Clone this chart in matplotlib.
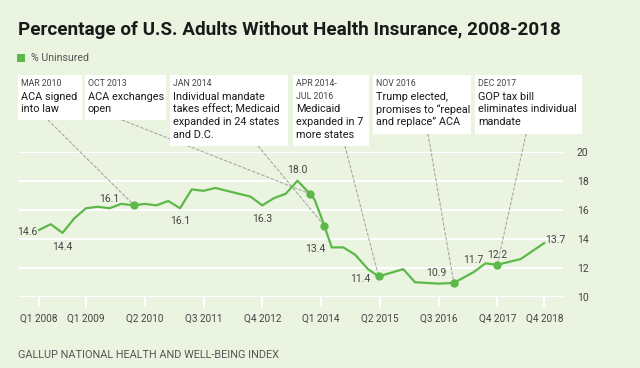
import matplotlib
matplotlib.use('Agg')
import matplotlib.pyplot as plt
from matplotlib import font_manager
from matplotlib.patches import Rectangle

# quarter index (0 = Q1 2008), fractional where the data is monthly
quarters = [0, 1, 2, 3, 4, 5, 6, 7, 8.1, 9, 10, 11, 12, 13, 14, 15, 18, 19, 20, 21, 22,
            23.05, 23.45, 24.06, 24.28, 24.91, 25.9, 26.9, 28, 28.9, 31, 32, 34, 35.3,
            37, 38, 39, 41, 42, 43]
uninsured = [14.6, 15.0, 14.4, 15.4, 16.1, 16.2, 16.1, 16.4, 16.3, 16.4, 16.3, 16.6, 16.1,
             17.4, 17.3, 17.5, 16.9, 16.3, 16.8, 17.1, 18.0,
             17.1, 16.7, 15.4, 14.9, 13.4, 13.4, 12.9, 11.9, 11.4, 11.9, 11.0, 10.9, 10.95,
             11.7, 12.3, 12.2, 12.6, 13.15, 13.7]

tick_pos = [0, 4, 9, 14, 19, 24, 29, 34, 39, 43]
tick_labels = ['Q1 2008', 'Q1 2009', 'Q2 2010', 'Q3 2011', 'Q4 2012', 'Q1 2014',
               'Q2 2015', 'Q3 2016', 'Q4 2017', 'Q4 2018']

# value labels: (quarter, shown text)
value_labels = [(0, '14.6'), (2, '14.4'), (6, '16.1'), (12, '16.1'), (19, '16.3'),
                (22, '18.0'), (24.91, '13.4'), (28.9, '11.4'), (35.3, '10.9'),
                (37, '11.7'), (39, '12.2'), (43, '13.7')]

# events: quarter of the marked point, header, body
event_q = [8.1, 23.05, 24.28, 28.9, 35.3, 39]
event_head = ['MAR 2010', 'OCT 2013', 'JAN 2014', 'APR 2014-\nJUL 2016', 'NOV 2016', 'DEC 2017']
event_body = ['ACA signed\ninto law',
              'ACA exchanges\nopen',
              'Individual mandate\ntakes effect; Medicaid\nexpanded in 24 states\nand D.C.',
              'Medicaid\nexpanded in 7\nmore states',
              'Trump elected,\npromises to \u201crepeal\nand replace\u201d ACA',
              'GOP tax bill\neliminates individual\nmandate']

names = {f.name for f in font_manager.fontManager.ttflist}
narrow = 'Liberation Sans Narrow' if 'Liberation Sans Narrow' in names else 'Roboto'
plt.rcParams['font.family'] = ['Roboto', 'DejaVu Sans']

BG = '#ebf4e1'
GREEN = '#5cb848'
W, H = 640, 368

fig = plt.figure(figsize=(6.4, 3.68), dpi=100, facecolor=BG)


def fx(px):
    return px / W


def fy(py):
    return 1 - py / H


# plot area: y 10..20 between pixel rows 296.7 and 151.7
q_px = 11.75
x0_px = 39
left_px, right_px = 19, 563
ax = fig.add_axes([fx(left_px), fy(296.7), (right_px - left_px) / W, 145 / H])
ax.set_facecolor(BG)
ax.set_xlim((left_px - x0_px) / q_px, (right_px - x0_px) / q_px)
ax.set_ylim(10, 20)
for s in ax.spines.values():
    s.set_visible(False)
for v in range(10, 21, 2):
    ax.axhline(v, color='white', lw=1.5, zorder=1)

ax.plot(quarters, uninsured, color=GREEN, lw=1.6, zorder=3, solid_joinstyle='round')
ev_vals = [uninsured[quarters.index(q)] for q in event_q]
ax.plot(event_q, ev_vals, 'o', color=GREEN, ms=5, zorder=4)

label_off = {'14.6': (-1, -1.2, 'right'), '14.4': (0, -10, 'center'), '16.1a': (0, 7, 'center'),
             '16.1b': (0, -9.4, 'center'), '16.3': (0, -9.8, 'center'), '18.0': (0, 7.7, 'center'),
             '13.4': (-12, -1.5, 'center'), '11.4': (-6, -1.7, 'right'), '10.9': (-5, 7, 'right'),
             '11.7': (0, 9, 'center'), '12.2': (0, 7.2, 'center'), '13.7': (1, 2.2, 'left')}
seen = set()
for q, txt in value_labels:
    key = txt
    if txt == '16.1':
        key = '16.1b' if '16.1a' in seen else '16.1a'
    seen.add(key)
    dx, dy, ha = label_off[key]
    ax.annotate(txt, (q, uninsured[quarters.index(q)]), xytext=(dx, dy),
                textcoords='offset points', ha=ha, va='center', fontsize=7.5,
                color='#444444', zorder=5)

ax.set_xticks(tick_pos)
ax.set_xticklabels(tick_labels, fontsize=7.2, color='#444444')
ax.tick_params(axis='x', length=7, width=1.5, color='white', pad=5)
ax.yaxis.tick_right()
ax.set_yticks(range(10, 21, 2))
ax.tick_params(axis='y', length=0, pad=10, labelsize=7.5, labelcolor='#444444')

# title, legend, footer
fig.text(fx(18), fy(30), 'Percentage of U.S. Adults Without Health Insurance, 2008-2018',
         fontsize=13.6, fontweight='bold', family=narrow, color='#1a1a1a', va='center')
fig.add_artist(Rectangle((fx(17), fy(62)), 8 / W, 8 / H, transform=fig.transFigure,
                         color=GREEN, lw=0))
fig.text(fx(31), fy(58), '% Uninsured', fontsize=7.6, color='#555555', va='center')
fig.text(fx(18), fy(355), 'GALLUP NATIONAL HEALTH AND WELL-BEING INDEX', fontsize=7.8,
         color='#555555', va='center')

# annotation boxes (pixel layout) and leader lines
boxes = [(18, 82, 120), (85, 166, 120), (170, 288, 146), (293, 369, 146),
         (373, 471, 134), (475, 582, 134)]
leader_start = [48, 122, 258, 345, 428, 526]
for i, (bx0, bx1, by1) in enumerate(boxes):
    fig.add_artist(Rectangle((fx(bx0), fy(by1)), (bx1 - bx0) / W, (by1 - 75) / H,
                             transform=fig.transFigure, color='white', lw=0, zorder=2))
    nhead = event_head[i].count('\n') + 1
    for j, line in enumerate(event_head[i].split('\n')):
        fig.text(fx(bx0 + 3), fy(84 + 12.7 * j), line, fontsize=6.3, color='#444444',
                 va='center', zorder=3)
    for j, line in enumerate(event_body[i].split('\n')):
        fig.text(fx(bx0 + 3), fy(84 + 12.7 * (j + nhead)), line, fontsize=7.8,
                 family=narrow, color='#1a1a1a', va='center', zorder=3)
    ax.annotate('', (event_q[i], ev_vals[i]), xytext=(leader_start[i], H - by1),
                textcoords='figure pixels', annotation_clip=False,
                arrowprops=dict(arrowstyle='-', color='#a8a8a8', lw=0.8,
                                linestyle=(0, (2.5, 2)), shrinkA=0, shrinkB=0), zorder=2)

fig.savefig('out.png', dpi=100, facecolor=BG)
